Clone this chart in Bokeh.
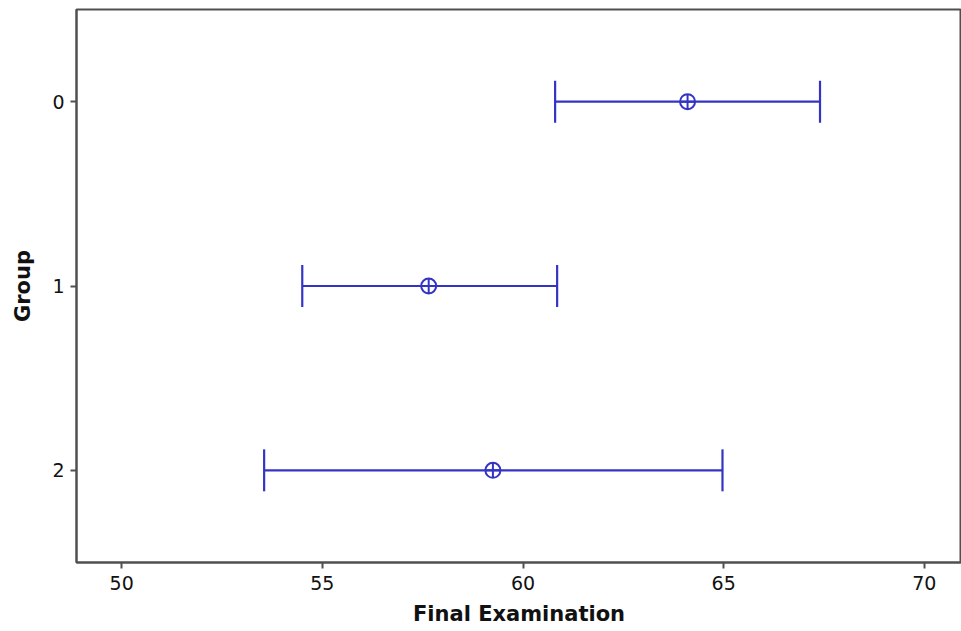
import math
from bokeh.plotting import figure
from bokeh.models import Range1d, FixedTicker, ColumnDataSource
from bokeh.embed import file_html
from bokeh.resources import INLINE

groups = [0, 1, 2]
means = [64.1, 57.65, 59.25]
lower = [60.8, 54.5, 53.55]
upper = [67.4, 60.85, 64.97]
x_ticks = [50, 55, 60, 65, 70]

src = ColumnDataSource(dict(g=groups, m=means, lo=lower, hi=upper))

p = figure(width=961, height=630, output_backend="svg", toolbar_location=None,
           x_range=Range1d(48.875, 70.925), y_range=Range1d(2.5, -0.5),
           min_border_left=76, min_border_right=0, min_border_top=9, min_border_bottom=68)

col = "#3434c4"
p.segment(x0="lo", x1="hi", y0="g", y1="g", source=src, line_color=col, line_width=2.2)
p.scatter(x="lo", y="g", source=src, marker="dash", angle=math.pi / 2, size=42,
          line_color=col, line_width=2.2)
p.scatter(x="hi", y="g", source=src, marker="dash", angle=math.pi / 2, size=42,
          line_color=col, line_width=2.2)
p.scatter(x="m", y="g", source=src, marker="circle_cross", size=15,
          line_color=col, fill_color=None, line_width=2)

p.grid.visible = False
p.outline_line_color = "#505050"
p.outline_line_width = 2

for ax in (p.xaxis[0], p.yaxis[0]):
    ax.axis_line_color = "#505050"
    ax.axis_line_width = 2
    ax.major_tick_line_color = "#505050"
    ax.major_tick_line_width = 2
    ax.major_tick_in = 0
    ax.major_tick_out = 6
    ax.minor_tick_line_color = None
    ax.major_label_text_font = "DejaVu Sans"
    ax.major_label_text_font_size = "19px"
    ax.major_label_text_color = "#111111"
    ax.axis_label_text_font = "DejaVu Sans"
    ax.axis_label_text_font_size = "21px"
    ax.axis_label_text_font_style = "bold"
    ax.axis_label_text_color = "#111111"

p.xaxis.ticker = FixedTicker(ticks=x_ticks)
p.yaxis.ticker = FixedTicker(ticks=groups)
p.xaxis.axis_label = "Final Examination"
p.yaxis.axis_label = "Group"
p.yaxis.major_label_orientation = "horizontal"
p.xaxis.major_label_standoff = 7
p.xaxis.axis_label_standoff = 9
p.yaxis.major_label_standoff = 6
p.yaxis.axis_label_standoff = 14

open("out.html", "w").write(file_html(p, INLINE))
